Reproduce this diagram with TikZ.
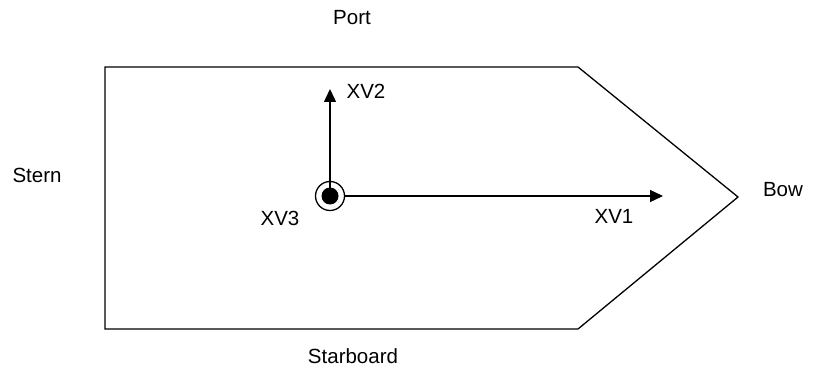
\documentclass[tikz,border=0pt]{standalone}
\usepackage{fontspec}
\setmainfont{Liberation Sans}
\usetikzlibrary{arrows.meta}
\begin{document}
\begin{tikzpicture}[x=1pt,y=-1pt,
  lbl/.style={font=\fontsize{20.5}{24}\selectfont, inner sep=0pt},
  hull/.style={draw=black, line width=1.3pt, line join=miter},
  axis/.style={draw=black, line width=1.3pt, -{Triangle[length=13pt,width=12pt]}}]
\useasboundingbox[fill=white] (0,0) rectangle (826,374);
% hull
\coordinate (tl) at (105,67);
\coordinate (tr) at (578,67);
\coordinate (tip) at (738,197);
\coordinate (br) at (578,329);
\coordinate (bl) at (105,329);
\draw[hull] (tl) -- (tr) -- (tip) -- (br) -- (bl) -- cycle;
% origin
\coordinate (o) at (330,196);
\node[circle, draw=black, line width=1.3pt, minimum size=29pt, inner sep=0pt] (oc) at (o) {};
\node[circle, fill=black, minimum size=17pt, inner sep=0pt] (od) at (o) {};
\coordinate (x1) at (663,196);
\coordinate (x2) at (330,89);
\draw[axis] (oc.east) -- (x1);
\draw[axis] (o) -- (x2);
% labels
\node[lbl] (port) at (352,18) {Port};
\node[lbl] (stern) at (37,175) {Stern};
\node[lbl] (bow) at (783,190) {Bow};
\node[lbl] (star) at (353,356) {Starboard};
\node[lbl] (xv2) at (366,91) {XV2};
\node[lbl] (xv3) at (280,218) {XV3};
\node[lbl] (xv1) at (614,216) {XV1};
\end{tikzpicture}
\end{document}
